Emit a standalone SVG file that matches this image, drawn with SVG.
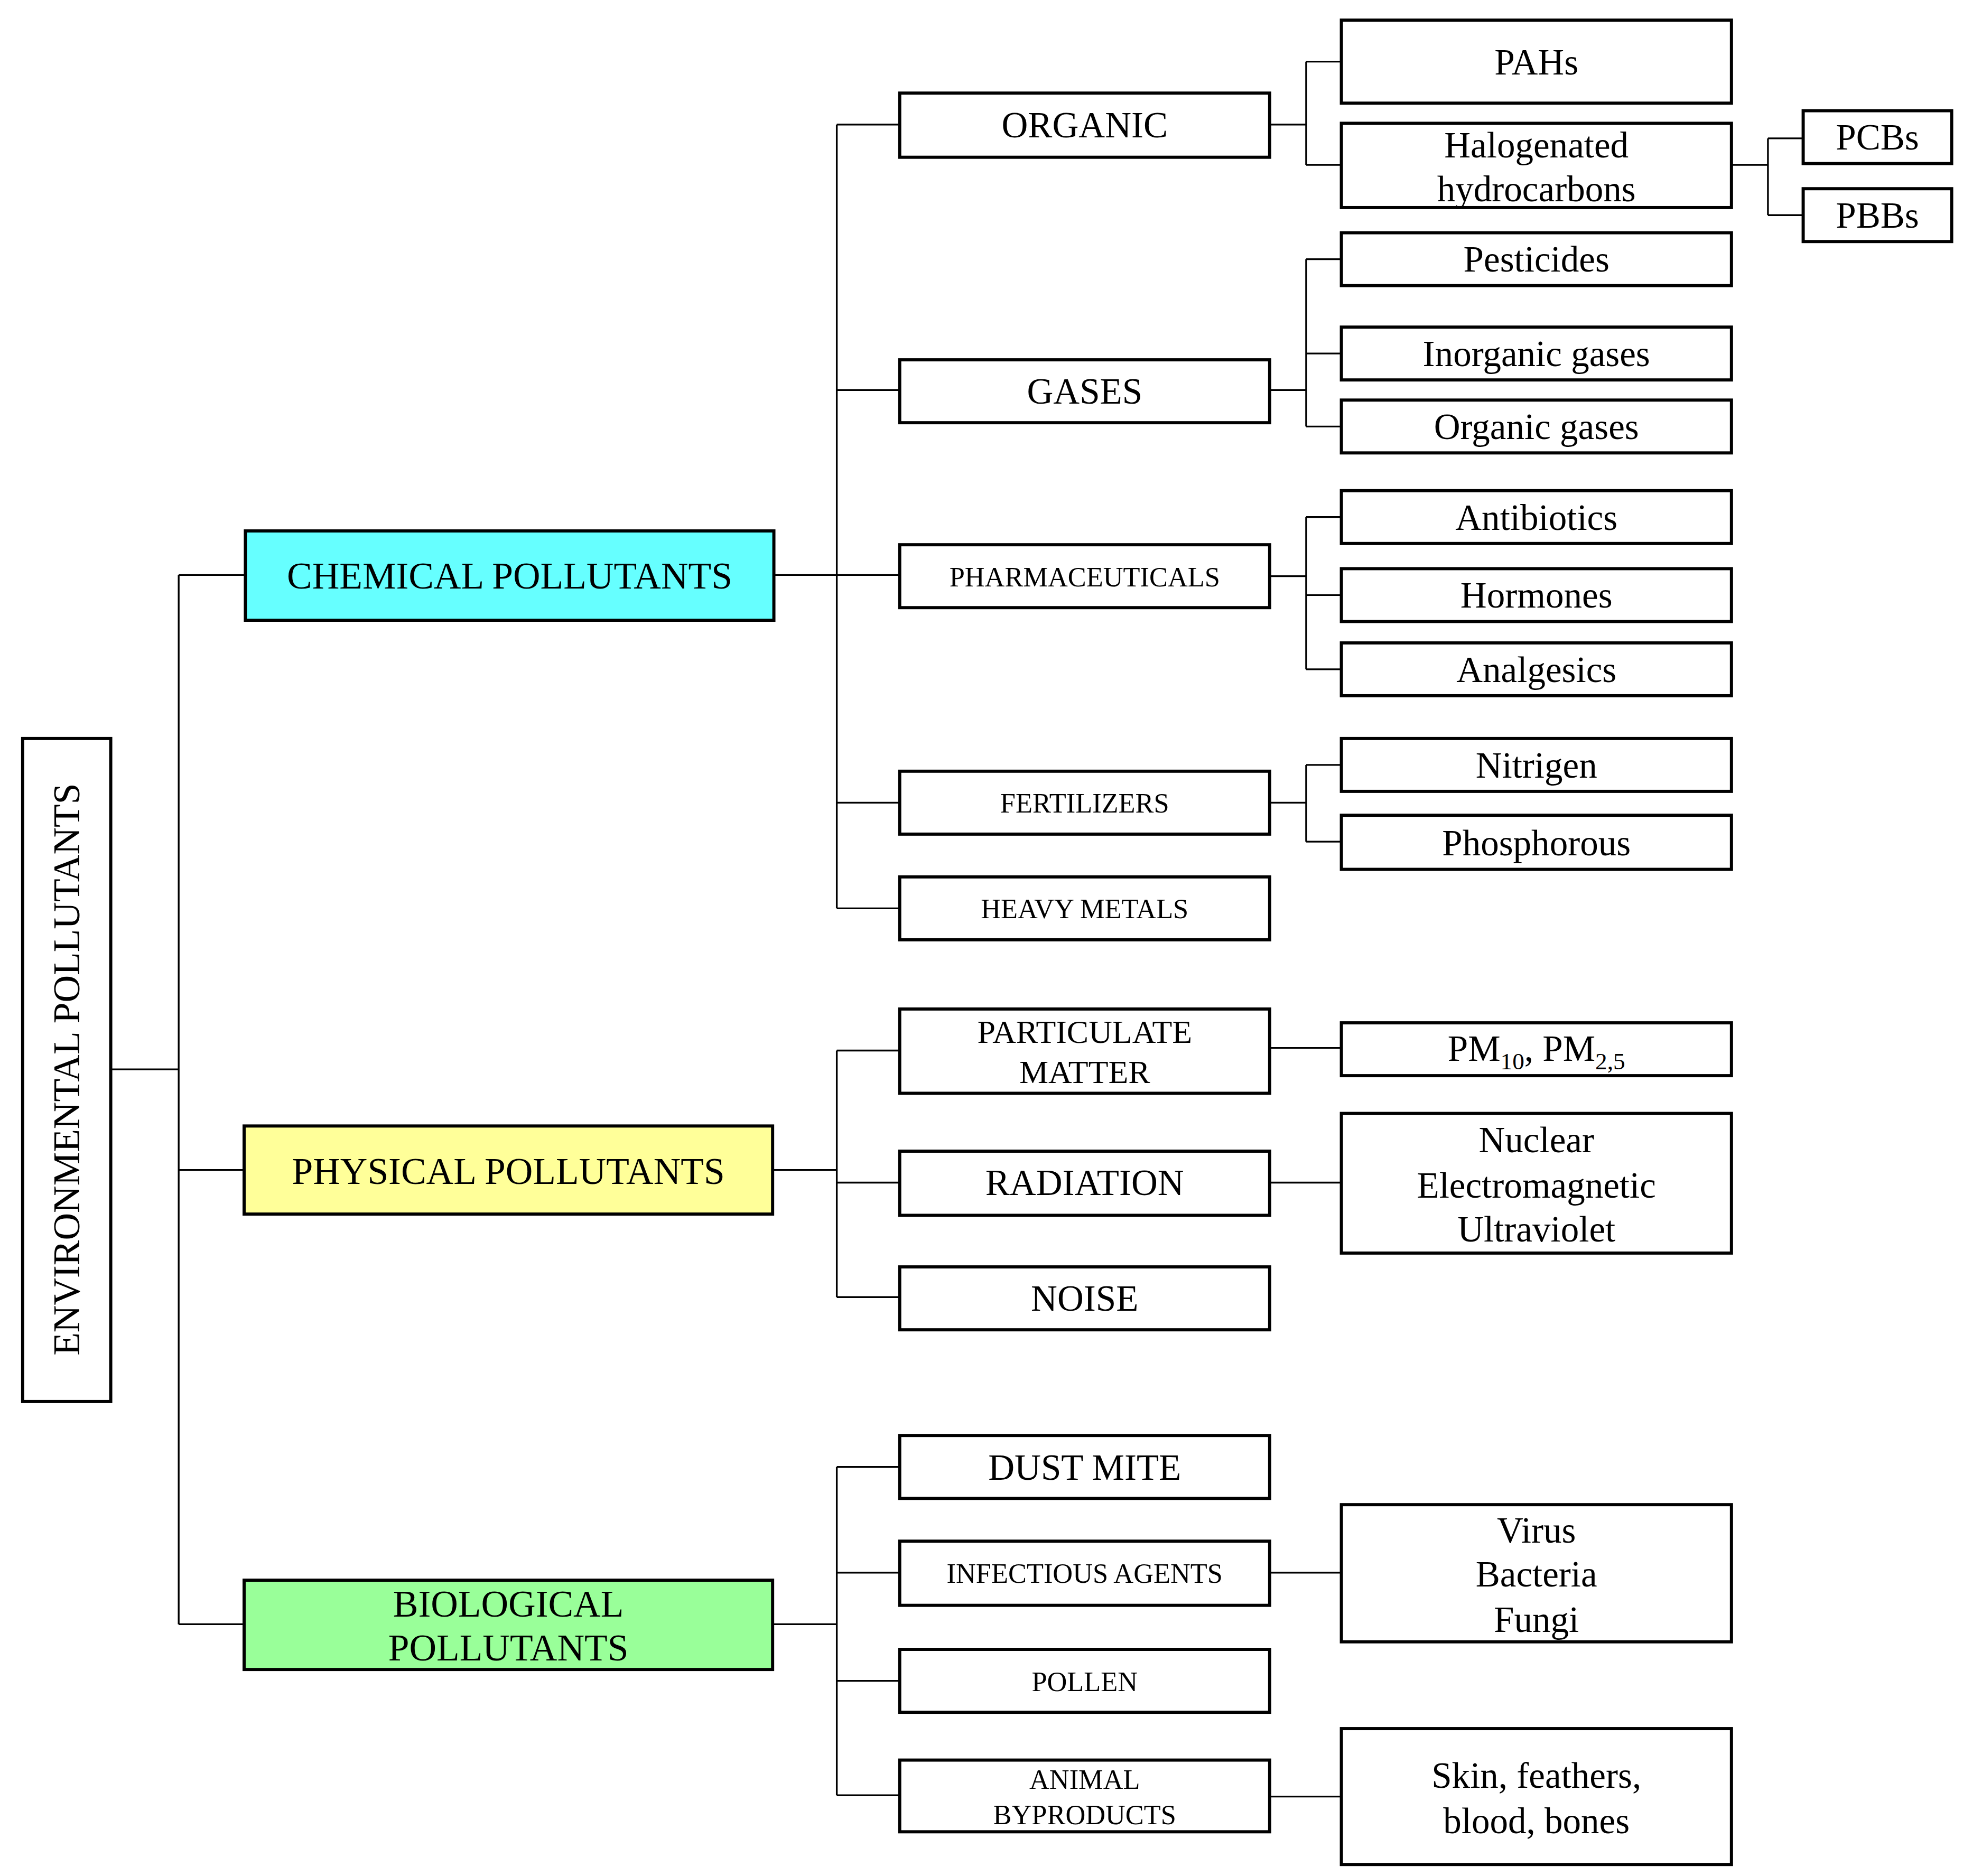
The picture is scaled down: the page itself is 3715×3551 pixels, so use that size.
<svg xmlns="http://www.w3.org/2000/svg" width="3715" height="3551" viewBox="0 0 3715 3551">
<style>
.b{fill:#fff;stroke:#000;stroke-width:2.5}
.c{fill:none;stroke:#000;stroke-width:1.4}
text{font-family:"Liberation Serif","DejaVu Serif",serif;text-anchor:middle;fill:#000}
.L{font-size:30px}.M{font-size:29px}.S{font-size:22px}.P{font-size:26px}
</style>
<rect width="3715" height="3551" fill="#fff"/>
<g transform="scale(2.3814)">
<g id="connectors" class="c">
<path d="M88 850H142M142 457V1291M142 457H195M142 930H194M142 1291H194"/>
<path d="M615 457H665M665 99V722M665 99H715M665 310H715M665 457H715M665 638H715M665 722H715"/>
<path d="M1009 99H1038M1038 49V131M1038 49H1066M1038 131H1066M1376 131H1405M1405 110V171M1405 110H1433M1405 171H1433"/>
<path d="M1009 310H1038M1038 206V339M1038 206H1066M1038 281H1066M1038 339H1066"/>
<path d="M1009 458H1038M1038 411V532M1038 411H1066M1038 473H1066M1038 532H1066"/>
<path d="M1009 638H1038M1038 608V669M1038 608H1066M1038 669H1066"/>
<path d="M614 930H665M665 835V1031M665 835H715M665 940H715M665 1031H715M1009 833H1066M1009 940H1066"/>
<path d="M614 1291H665M665 1166V1427M665 1166H715M665 1250H715M665 1336H715M665 1427H715M1009 1250H1066M1009 1428H1066"/>
</g>
<g id="root"><rect class="b" x="18" y="587" width="70" height="527"/><text class="L" transform="translate(63 850) rotate(-90)">ENVIRONMENTAL POLLUTANTS</text></g>
<g id="chemical"><rect class="b" x="195" y="422" width="420" height="71" style="fill:#66ffff"/><text class="L" x="405" y="468">CHEMICAL POLLUTANTS</text></g>
<g id="physical"><rect class="b" x="194" y="895" width="420" height="70" style="fill:#ffff99"/><text class="L" x="404" y="941">PHYSICAL POLLUTANTS</text></g>
<g id="biological"><rect class="b" x="194" y="1256" width="420" height="71" style="fill:#99ff99"/><text class="L" x="404" y="1285">BIOLOGICAL</text><text class="L" x="404" y="1320">POLLUTANTS</text></g>
<g id="organic"><rect class="b" x="715" y="74" width="294" height="51"/><text class="M" x="862" y="109">ORGANIC</text></g>
<g id="gases"><rect class="b" x="715" y="286" width="294" height="50"/><text class="M" x="862" y="321">GASES</text></g>
<g id="pharma"><rect class="b" x="715" y="433" width="294" height="50"/><text class="S" x="862" y="466">PHARMACEUTICALS</text></g>
<g id="fertilizers"><rect class="b" x="715" y="613" width="294" height="50"/><text class="S" x="862" y="646">FERTILIZERS</text></g>
<g id="heavymetals"><rect class="b" x="715" y="697" width="294" height="50"/><text class="S" x="862" y="730">HEAVY METALS</text></g>
<g id="pahs"><rect class="b" x="1066" y="16" width="310" height="66"/><text class="M" x="1221" y="59">PAHs</text></g>
<g id="halo"><rect class="b" x="1066" y="98" width="310" height="67"/><text class="M" x="1221" y="125">Halogenated</text><text class="M" x="1221" y="160">hydrocarbons</text></g>
<g id="pcbs"><rect class="b" x="1433" y="88" width="118" height="42"/><text class="M" x="1492" y="119">PCBs</text></g>
<g id="pbbs"><rect class="b" x="1433" y="150" width="118" height="42"/><text class="M" x="1492" y="181">PBBs</text></g>
<g id="pesticides"><rect class="b" x="1066" y="185" width="310" height="42"/><text class="M" x="1221" y="216">Pesticides</text></g>
<g id="inorganic"><rect class="b" x="1066" y="260" width="310" height="42"/><text class="M" x="1221" y="291">Inorganic gases</text></g>
<g id="organicgases"><rect class="b" x="1066" y="318" width="310" height="42"/><text class="M" x="1221" y="349">Organic gases</text></g>
<g id="antibiotics"><rect class="b" x="1066" y="390" width="310" height="42"/><text class="M" x="1221" y="421">Antibiotics</text></g>
<g id="hormones"><rect class="b" x="1066" y="452" width="310" height="42"/><text class="M" x="1221" y="483">Hormones</text></g>
<g id="analgesics"><rect class="b" x="1066" y="511" width="310" height="42"/><text class="M" x="1221" y="542">Analgesics</text></g>
<g id="nitrigen"><rect class="b" x="1066" y="587" width="310" height="42"/><text class="M" x="1221" y="618">Nitrigen</text></g>
<g id="phosphorous"><rect class="b" x="1066" y="648" width="310" height="43"/><text class="M" x="1221" y="680">Phosphorous</text></g>
<g id="particulate"><rect class="b" x="715" y="802" width="294" height="67"/><text class="P" x="862" y="829">PARTICULATE</text><text class="P" x="862" y="861">MATTER</text></g>
<g id="radiation"><rect class="b" x="715" y="915" width="294" height="51"/><text class="M" x="862" y="950">RADIATION</text></g>
<g id="noise"><rect class="b" x="715" y="1007" width="294" height="50"/><text class="M" x="862" y="1042">NOISE</text></g>
<g id="pm"><rect class="b" x="1066" y="813" width="310" height="42"/><text class="M" x="1221" y="843">PM<tspan font-size="19" dy="7">10</tspan><tspan dy="-7">, PM</tspan><tspan font-size="19" dy="7">2,5</tspan></text></g>
<g id="radtypes"><rect class="b" x="1066" y="885" width="310" height="111"/><text class="M" x="1221" y="916">Nuclear</text><text class="M" x="1221" y="952">Electromagnetic</text><text class="M" x="1221" y="987">Ultraviolet</text></g>
<g id="dustmite"><rect class="b" x="715" y="1141" width="294" height="50"/><text class="M" x="862" y="1176">DUST MITE</text></g>
<g id="infectious"><rect class="b" x="715" y="1225" width="294" height="51"/><text class="S" x="862" y="1258">INFECTIOUS AGENTS</text></g>
<g id="pollen"><rect class="b" x="715" y="1311" width="294" height="50"/><text class="S" x="862" y="1344">POLLEN</text></g>
<g id="animal"><rect class="b" x="715" y="1399" width="294" height="57"/><text class="S" x="862" y="1422">ANIMAL</text><text class="S" x="862" y="1450">BYPRODUCTS</text></g>
<g id="microbes"><rect class="b" x="1066" y="1196" width="310" height="109"/><text class="M" x="1221" y="1226">Virus</text><text class="M" x="1221" y="1261">Bacteria</text><text class="M" x="1221" y="1297">Fungi</text></g>
<g id="byproducts"><rect class="b" x="1066" y="1374" width="310" height="108"/><text class="M" x="1221" y="1421">Skin, feathers,</text><text class="M" x="1221" y="1457">blood, bones</text></g>
</g>
</svg>
